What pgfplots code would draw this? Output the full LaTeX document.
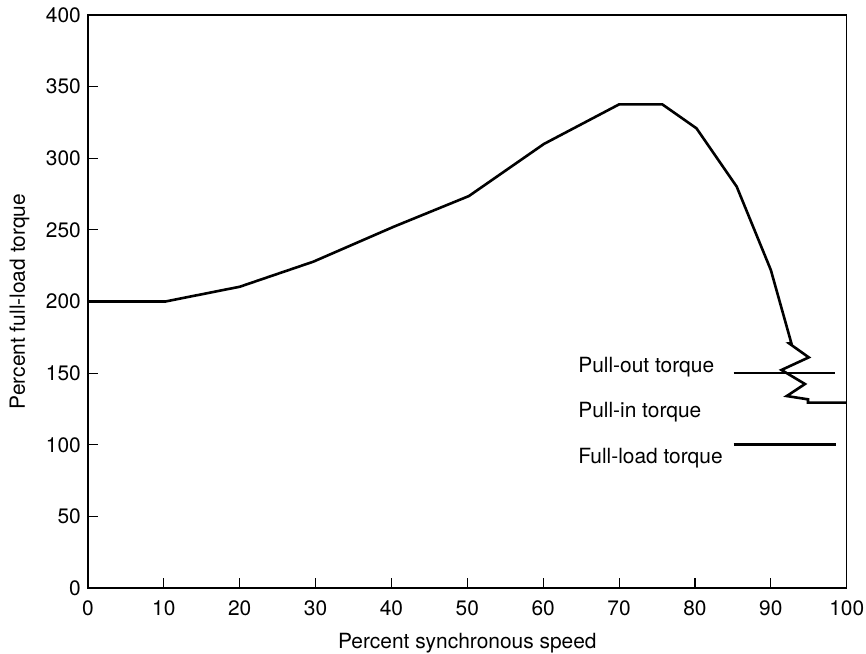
\documentclass[border=0pt]{standalone}
\usepackage{fontspec}
\setmainfont{TeX Gyre Heros}
\usepackage{pgfplots}
\pgfplotsset{compat=1.18}
\begin{document}
\fontsize{21}{25}\selectfont
\begin{tikzpicture}
\useasboundingbox (-88bp,-66bp) rectangle (778bp,588bp);
\begin{axis}[
 at={(0,0)}, anchor=south west,
 scale only axis, width=758.7bp, height=573bp,
 xmin=0, xmax=100, ymin=0, ymax=400,
 xtick={0,10,...,100}, ytick={0,50,...,400},
 tick align=inside, xtick pos=bottom, ytick pos=left,
 major tick length=10bp,
 tick style={black, line width=1.1bp},
 axis line style={line width=1.2bp},
 /pgf/number format/assume math mode=true,
 ticklabel style={font=\fontsize{21}{25}\selectfont},
 xticklabel style={yshift=-5bp},
 label style={font=\fontsize{21}{25}\selectfont},
 xlabel={Percent synchronous speed},
 ylabel={Percent full-load torque},
 xlabel style={at={(axis description cs:0.5,-0.106)}, anchor=base},
 ylabel style={at={(axis description cs:-0.0903,0.5)}, anchor=center},
 clip=false,
]
\addplot[black, line width=2.6bp] coordinates {
 (0,200) (10.2,200) (20,210.3) (29.7,227.8) (40.3,252.2) (50.2,273.6)
 (60.1,310) (70,337.6) (75.7,337.6) (80.2,320.9) (85.5,280.2) (90,222)
 (92.7,171) (92.4,170.8) (95,161) (91.4,152.2) (94.5,142.4) (92.1,134)
 (94.9,131.7) (94.9,129.4) (100,129.4)
};
\addplot[black, line width=1.3bp] coordinates {(85.1,150) (98.5,150)};
\addplot[black, line width=3.2bp] coordinates {(85.1,100) (98.6,100)};
\node[anchor=base west, inner sep=0pt] at (axis cs:64.6,150.6) {Pull-out torque};
\node[anchor=base west, inner sep=0pt] at (axis cs:64.6,118.9) {Pull-in torque};
\node[anchor=base west, inner sep=0pt] at (axis cs:64.6,87.0) {Full-load torque};
\end{axis}
\end{tikzpicture}
\end{document}
